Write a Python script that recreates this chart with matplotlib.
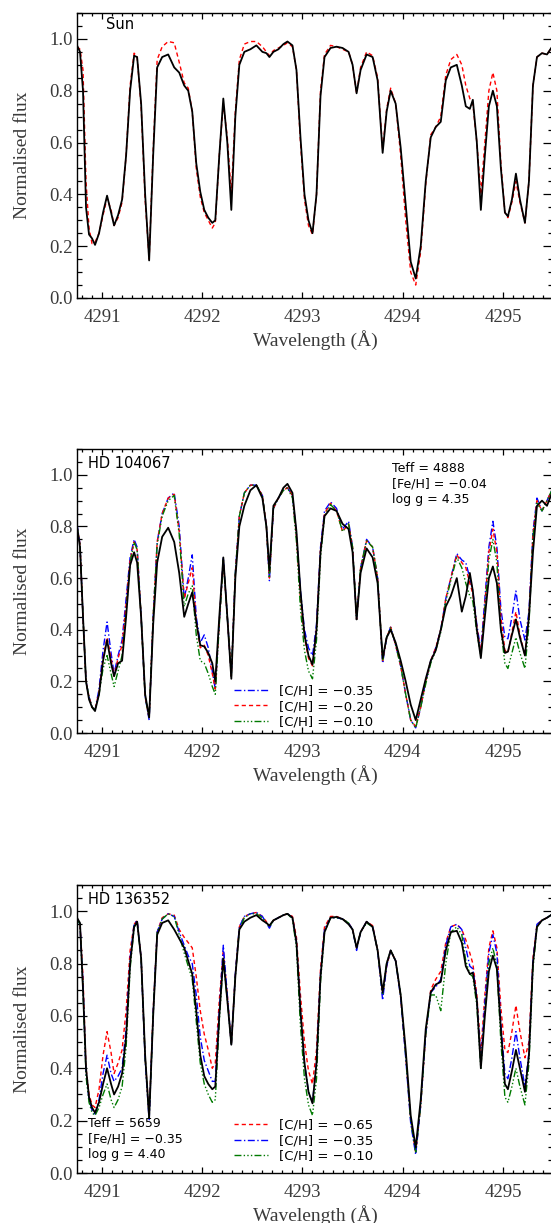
import matplotlib
matplotlib.use("Agg")
import matplotlib.pyplot as plt
from matplotlib.ticker import MultipleLocator, FormatStrFormatter

# ---------------- Data ---------------- #
wave = [
    4290.75, 4290.78, 4290.81, 4290.84, 4290.87, 4290.90, 4290.93, 4290.97, 4291.01, 4291.05,
    4291.09, 4291.12, 4291.16, 4291.20, 4291.24, 4291.28, 4291.32, 4291.35, 4291.39, 4291.43,
    4291.47, 4291.51, 4291.55, 4291.60, 4291.66, 4291.72, 4291.77, 4291.82, 4291.86, 4291.90,
    4291.94, 4291.98, 4292.02, 4292.06, 4292.10, 4292.13, 4292.17, 4292.21, 4292.25, 4292.29,
    4292.33, 4292.37, 4292.42, 4292.48, 4292.54, 4292.60, 4292.64, 4292.67, 4292.71, 4292.76,
    4292.81, 4292.85, 4292.90, 4292.94, 4292.98, 4293.02, 4293.06, 4293.10, 4293.14, 4293.18,
    4293.22, 4293.28, 4293.34, 4293.40, 4293.46, 4293.50, 4293.54, 4293.58, 4293.64, 4293.70,
    4293.75, 4293.80, 4293.84, 4293.88, 4293.93, 4293.98, 4294.03, 4294.08, 4294.13, 4294.18,
    4294.23, 4294.28, 4294.33, 4294.38, 4294.43, 4294.48, 4294.54, 4294.59, 4294.63, 4294.67,
    4294.70, 4294.74, 4294.78, 4294.82, 4294.86, 4294.90, 4294.94, 4294.98, 4295.02, 4295.05,
    4295.09, 4295.13, 4295.17, 4295.22, 4295.26, 4295.30, 4295.34, 4295.39, 4295.44, 4295.50,
]

# Sun
sun_obs = [
    0.975, 0.95, 0.80, 0.35, 0.245, 0.23, 0.205, 0.25, 0.33, 0.395,
    0.33, 0.28, 0.32, 0.38, 0.55, 0.80, 0.935, 0.93, 0.75, 0.40,
    0.145, 0.55, 0.89, 0.93, 0.94, 0.89, 0.87, 0.82, 0.80, 0.72,
    0.52, 0.41, 0.34, 0.31, 0.29, 0.30, 0.55, 0.77, 0.60, 0.34,
    0.70, 0.90, 0.95, 0.96, 0.975, 0.95, 0.945, 0.93, 0.95, 0.96,
    0.98, 0.99, 0.975, 0.88, 0.62, 0.40, 0.30, 0.25, 0.40, 0.78,
    0.93, 0.965, 0.97, 0.965, 0.95, 0.90, 0.79, 0.88, 0.94, 0.93,
    0.84, 0.56, 0.72, 0.80, 0.75, 0.58, 0.36, 0.14, 0.075, 0.20,
    0.45, 0.62, 0.66, 0.68, 0.84, 0.89, 0.90, 0.82, 0.74, 0.73,
    0.765, 0.60, 0.34, 0.55, 0.74, 0.80, 0.74, 0.50, 0.33, 0.315,
    0.38, 0.48, 0.38, 0.29, 0.45, 0.82, 0.93, 0.945, 0.94, 0.975,
]
sun_syn = [
    0.97, 0.96, 0.88, 0.45, 0.27, 0.21, 0.215, 0.25, 0.32, 0.385,
    0.34, 0.28, 0.31, 0.37, 0.55, 0.82, 0.945, 0.93, 0.74, 0.38,
    0.15, 0.57, 0.92, 0.97, 0.99, 0.985, 0.91, 0.83, 0.81, 0.72,
    0.50, 0.39, 0.33, 0.30, 0.27, 0.29, 0.55, 0.75, 0.62, 0.40,
    0.72, 0.92, 0.98, 0.99, 0.99, 0.97, 0.95, 0.935, 0.955, 0.965,
    0.975, 0.985, 0.97, 0.88, 0.60, 0.38, 0.28, 0.245, 0.40, 0.80,
    0.94, 0.975, 0.97, 0.96, 0.95, 0.90, 0.79, 0.89, 0.95, 0.935,
    0.85, 0.57, 0.73, 0.81, 0.75, 0.55, 0.30, 0.10, 0.05, 0.18,
    0.44, 0.63, 0.66, 0.70, 0.86, 0.92, 0.94, 0.90, 0.82, 0.77,
    0.75, 0.60, 0.40, 0.60, 0.80, 0.87, 0.80, 0.52, 0.33, 0.31,
    0.37, 0.45, 0.37, 0.29, 0.45, 0.82, 0.93, 0.945, 0.94, 0.975,
]

# HD 104067
hd1_obs = [
    0.80, 0.72, 0.45, 0.20, 0.13, 0.10, 0.085, 0.15, 0.28, 0.36,
    0.27, 0.22, 0.27, 0.28, 0.45, 0.65, 0.70, 0.66, 0.45, 0.15,
    0.06, 0.42, 0.66, 0.76, 0.795, 0.74, 0.62, 0.45, 0.50, 0.545,
    0.43, 0.34, 0.335, 0.31, 0.27, 0.20, 0.45, 0.68, 0.45, 0.21,
    0.60, 0.80, 0.88, 0.94, 0.96, 0.91, 0.80, 0.63, 0.88, 0.91,
    0.95, 0.965, 0.93, 0.78, 0.55, 0.38, 0.30, 0.265, 0.40, 0.70,
    0.84, 0.87, 0.86, 0.81, 0.79, 0.70, 0.44, 0.62, 0.715, 0.68,
    0.58, 0.29, 0.37, 0.40, 0.35, 0.28, 0.20, 0.11, 0.05, 0.13,
    0.21, 0.28, 0.32, 0.40, 0.49, 0.53, 0.60, 0.47, 0.53, 0.62,
    0.55, 0.40, 0.29, 0.45, 0.60, 0.645, 0.58, 0.40, 0.31, 0.315,
    0.38, 0.44, 0.37, 0.30, 0.45, 0.70, 0.88, 0.90, 0.88, 0.94,
]
hd1_m035 = [
    0.81, 0.73, 0.45, 0.20, 0.14, 0.10, 0.09, 0.17, 0.32, 0.43,
    0.31, 0.23, 0.30, 0.36, 0.52, 0.68, 0.75, 0.72, 0.45, 0.14,
    0.05, 0.45, 0.74, 0.85, 0.91, 0.93, 0.80, 0.52, 0.60, 0.69,
    0.45, 0.35, 0.38, 0.33, 0.24, 0.17, 0.43, 0.68, 0.45, 0.22,
    0.62, 0.84, 0.93, 0.96, 0.96, 0.92, 0.80, 0.59, 0.87, 0.91,
    0.94, 0.95, 0.92, 0.77, 0.55, 0.40, 0.33, 0.30, 0.42, 0.72,
    0.86, 0.895, 0.87, 0.79, 0.82, 0.72, 0.44, 0.64, 0.75, 0.72,
    0.60, 0.27, 0.37, 0.41, 0.34, 0.26, 0.15, 0.05, 0.02, 0.10,
    0.20, 0.28, 0.33, 0.40, 0.52, 0.60, 0.695, 0.67, 0.66, 0.60,
    0.55, 0.42, 0.32, 0.52, 0.72, 0.82, 0.72, 0.48, 0.37, 0.365,
    0.45, 0.55, 0.44, 0.36, 0.47, 0.78, 0.91, 0.86, 0.90, 0.95,
]
hd1_m020 = [
    0.80, 0.73, 0.45, 0.20, 0.14, 0.10, 0.09, 0.16, 0.29, 0.37,
    0.29, 0.22, 0.29, 0.34, 0.50, 0.67, 0.74, 0.71, 0.45, 0.14,
    0.06, 0.45, 0.74, 0.85, 0.91, 0.925, 0.78, 0.52, 0.58, 0.64,
    0.43, 0.33, 0.34, 0.30, 0.23, 0.17, 0.43, 0.67, 0.45, 0.22,
    0.62, 0.84, 0.93, 0.96, 0.96, 0.92, 0.80, 0.60, 0.87, 0.91,
    0.94, 0.95, 0.92, 0.76, 0.52, 0.37, 0.29, 0.26, 0.40, 0.71,
    0.85, 0.89, 0.86, 0.78, 0.81, 0.72, 0.44, 0.64, 0.745, 0.72,
    0.60, 0.28, 0.37, 0.41, 0.34, 0.26, 0.15, 0.05, 0.025, 0.10,
    0.20, 0.28, 0.33, 0.40, 0.52, 0.60, 0.69, 0.66, 0.64, 0.58,
    0.54, 0.41, 0.31, 0.50, 0.70, 0.79, 0.70, 0.45, 0.32, 0.31,
    0.39, 0.47, 0.38, 0.30, 0.45, 0.77, 0.90, 0.86, 0.90, 0.95,
]
hd1_m010 = [
    0.80, 0.73, 0.45, 0.20, 0.14, 0.10, 0.09, 0.15, 0.25, 0.30,
    0.23, 0.18, 0.24, 0.30, 0.47, 0.66, 0.74, 0.71, 0.45, 0.14,
    0.06, 0.45, 0.73, 0.84, 0.90, 0.92, 0.77, 0.49, 0.54, 0.57,
    0.38, 0.28, 0.27, 0.23, 0.18, 0.15, 0.42, 0.67, 0.45, 0.22,
    0.62, 0.84, 0.93, 0.96, 0.96, 0.92, 0.80, 0.60, 0.87, 0.91,
    0.94, 0.95, 0.91, 0.74, 0.48, 0.32, 0.24, 0.21, 0.36, 0.68,
    0.84, 0.885, 0.86, 0.78, 0.81, 0.72, 0.44, 0.64, 0.745, 0.72,
    0.60, 0.28, 0.37, 0.41, 0.34, 0.26, 0.15, 0.05, 0.02, 0.10,
    0.19, 0.27, 0.32, 0.39, 0.51, 0.59, 0.68, 0.64, 0.58, 0.53,
    0.51, 0.39, 0.30, 0.48, 0.67, 0.75, 0.66, 0.40, 0.27, 0.25,
    0.31, 0.37, 0.31, 0.25, 0.42, 0.76, 0.89, 0.86, 0.90, 0.95,
]

# HD 136352
hd2_obs = [
    0.975, 0.955, 0.70, 0.40, 0.29, 0.25, 0.23, 0.27, 0.34, 0.40,
    0.34, 0.30, 0.33, 0.38, 0.52, 0.80, 0.94, 0.96, 0.82, 0.45,
    0.21, 0.60, 0.91, 0.955, 0.965, 0.93, 0.895, 0.86, 0.81, 0.76,
    0.62, 0.45, 0.37, 0.34, 0.32, 0.33, 0.60, 0.82, 0.66, 0.49,
    0.75, 0.93, 0.96, 0.975, 0.985, 0.965, 0.955, 0.945, 0.965, 0.975,
    0.985, 0.99, 0.975, 0.88, 0.62, 0.42, 0.31, 0.266, 0.42, 0.75,
    0.92, 0.975, 0.978, 0.97, 0.95, 0.93, 0.86, 0.92, 0.96, 0.94,
    0.85, 0.69, 0.80, 0.85, 0.81, 0.68, 0.47, 0.22, 0.097, 0.28,
    0.55, 0.69, 0.72, 0.73, 0.85, 0.92, 0.925, 0.88, 0.79, 0.76,
    0.765, 0.66, 0.40, 0.60, 0.77, 0.83, 0.78, 0.55, 0.34, 0.32,
    0.39, 0.47, 0.40, 0.31, 0.45, 0.80, 0.94, 0.965, 0.975, 0.99,
]
hd2_m065 = [
    0.97, 0.95, 0.75, 0.40, 0.30, 0.26, 0.25, 0.32, 0.45, 0.54,
    0.46, 0.38, 0.42, 0.47, 0.62, 0.85, 0.95, 0.965, 0.82, 0.44,
    0.22, 0.62, 0.92, 0.975, 0.99, 0.985, 0.93, 0.90, 0.88, 0.86,
    0.75, 0.62, 0.53, 0.47, 0.40, 0.42, 0.66, 0.85, 0.68, 0.49,
    0.76, 0.94, 0.98, 0.99, 0.995, 0.98, 0.96, 0.94, 0.965, 0.975,
    0.985, 0.99, 0.98, 0.90, 0.68, 0.50, 0.39, 0.34, 0.47, 0.78,
    0.94, 0.98, 0.98, 0.97, 0.955, 0.93, 0.86, 0.92, 0.96, 0.945,
    0.85, 0.68, 0.79, 0.85, 0.81, 0.67, 0.45, 0.20, 0.075, 0.26,
    0.53, 0.70, 0.74, 0.77, 0.88, 0.94, 0.95, 0.93, 0.89, 0.84,
    0.80, 0.68, 0.46, 0.68, 0.86, 0.925, 0.86, 0.63, 0.47, 0.46,
    0.54, 0.64, 0.54, 0.44, 0.50, 0.82, 0.95, 0.965, 0.975, 0.99,
]
hd2_m035 = [
    0.97, 0.95, 0.72, 0.38, 0.28, 0.24, 0.22, 0.28, 0.38, 0.45,
    0.38, 0.35, 0.37, 0.40, 0.55, 0.82, 0.95, 0.965, 0.82, 0.43,
    0.20, 0.61, 0.92, 0.97, 0.99, 0.98, 0.92, 0.87, 0.83, 0.80,
    0.68, 0.52, 0.43, 0.39, 0.35, 0.35, 0.62, 0.87, 0.68, 0.49,
    0.76, 0.94, 0.98, 0.99, 0.995, 0.98, 0.955, 0.935, 0.965, 0.975,
    0.985, 0.99, 0.975, 0.88, 0.62, 0.42, 0.31, 0.27, 0.42, 0.76,
    0.93, 0.975, 0.975, 0.97, 0.955, 0.93, 0.85, 0.92, 0.96, 0.94,
    0.85, 0.66, 0.79, 0.85, 0.81, 0.67, 0.44, 0.19, 0.07, 0.26,
    0.53, 0.69, 0.71, 0.74, 0.87, 0.94, 0.95, 0.93, 0.86, 0.79,
    0.78, 0.67, 0.42, 0.65, 0.84, 0.91, 0.84, 0.57, 0.38, 0.36,
    0.44, 0.54, 0.44, 0.33, 0.46, 0.81, 0.95, 0.965, 0.975, 0.99,
]
hd2_m010 = [
    0.97, 0.95, 0.70, 0.37, 0.27, 0.23, 0.22, 0.25, 0.30, 0.34,
    0.28, 0.25, 0.28, 0.33, 0.48, 0.78, 0.94, 0.955, 0.82, 0.44,
    0.21, 0.60, 0.92, 0.97, 0.99, 0.98, 0.91, 0.84, 0.79, 0.74,
    0.58, 0.42, 0.34, 0.30, 0.27, 0.28, 0.58, 0.82, 0.66, 0.49,
    0.75, 0.93, 0.975, 0.99, 0.99, 0.975, 0.955, 0.94, 0.965, 0.975,
    0.985, 0.99, 0.97, 0.86, 0.56, 0.36, 0.26, 0.22, 0.36, 0.73,
    0.92, 0.975, 0.975, 0.97, 0.955, 0.93, 0.86, 0.92, 0.955, 0.94,
    0.85, 0.68, 0.80, 0.85, 0.81, 0.68, 0.45, 0.20, 0.08, 0.26,
    0.53, 0.68, 0.68, 0.62, 0.80, 0.92, 0.94, 0.91, 0.81, 0.76,
    0.75, 0.64, 0.40, 0.62, 0.80, 0.86, 0.79, 0.50, 0.29, 0.27,
    0.33, 0.40, 0.33, 0.26, 0.42, 0.78, 0.94, 0.965, 0.975, 0.99,
]

panel_names = ["Sun", "HD 104067", "HD 136352"]
params_104067 = "Teff = 4888\n[Fe/H] = \u22120.04\nlog g = 4.35"
params_136352 = "Teff = 5659\n[Fe/H] = \u22120.35\nlog g = 4.40"
xtick_vals = [4291, 4292, 4293, 4294, 4295]

# ---------------- Styles ---------------- #
RED = dict(color="#ff0000", lw=1.0, dashes=(3.0, 2.2))
BLUE = dict(color="#0000ff", lw=1.0, dashes=(5.0, 1.8, 1.0, 1.8))
GREEN = dict(color="#007a00", lw=1.0, dashes=(5.0, 1.6, 1.0, 1.6, 1.0, 1.6, 1.0, 1.6))
BLACK = dict(color="black", lw=1.3)
LABEL_GREY = "#3a3a3a"
SERIF = "Liberation Serif"
SANS = "DejaVu Sans"

W, H = 551, 1223
fig = plt.figure(figsize=(W / 100, H / 100), dpi=100)

# axes boxes in pixels: left, top, right, bottom
boxes = [(77, 13, 553, 298), (77, 449, 553, 733), (77, 885, 553, 1173)]
axes = []
for (l, t, r, b) in boxes:
    ax = fig.add_axes([l / W, 1 - b / H, (r - l) / W, (b - t) / H])
    axes.append(ax)


def style_axis(ax):
    ax.set_xlim(4290.75, 4295.5)
    ax.set_ylim(0.0, 1.1)
    ax.xaxis.set_major_locator(plt.FixedLocator(xtick_vals))
    ax.xaxis.set_major_formatter(FormatStrFormatter("%d"))
    ax.xaxis.set_minor_locator(MultipleLocator(0.1))
    ax.yaxis.set_major_locator(MultipleLocator(0.2))
    ax.yaxis.set_major_formatter(FormatStrFormatter("%.1f"))
    ax.yaxis.set_minor_locator(MultipleLocator(0.05))
    ax.tick_params(which="both", direction="in", top=True, right=True, width=0.9)
    ax.tick_params(axis="x", which="major", length=4.5, pad=8)
    ax.tick_params(axis="x", which="minor", length=2.2)
    ax.tick_params(axis="y", which="major", length=7.5, pad=3)
    ax.tick_params(axis="y", which="minor", length=3.8)
    for lab in ax.get_xticklabels() + ax.get_yticklabels():
        lab.set_fontfamily(SERIF)
        lab.set_fontsize(13.5)
        lab.set_color(LABEL_GREY)
    for sp in ax.spines.values():
        sp.set_linewidth(1.0)
    ax.set_xlabel("Wavelength (\u00c5)", fontfamily=SERIF, fontsize=14,
                  color=LABEL_GREY, labelpad=3)
    ax.set_ylabel("Normalised flux", fontfamily=SERIF, fontsize=14,
                  color=LABEL_GREY, labelpad=13)


# ---------------- Panel 1: Sun ---------------- #
ax = axes[0]
ax.plot(wave, sun_syn, **RED)
ax.plot(wave, sun_obs, **BLACK)
style_axis(ax)
ax.text(0.061, 0.985, panel_names[0], transform=ax.transAxes, ha="left", va="top",
        fontfamily=SANS, fontsize=10.5)

# ---------------- Panel 2: HD 104067 ---------------- #
ax = axes[1]
l1, = ax.plot(wave, hd1_m035, label="[C/H] = \u22120.35", **BLUE)
l2, = ax.plot(wave, hd1_m020, label="[C/H] = \u22120.20", **RED)
l3, = ax.plot(wave, hd1_m010, label="[C/H] = \u22120.10", **GREEN)
ax.plot(wave, hd1_obs, **BLACK)
style_axis(ax)
ax.text(0.023, 0.975, panel_names[1], transform=ax.transAxes, ha="left", va="top",
        fontfamily=SANS, fontsize=10.5)
ax.text(0.662, 0.955, params_104067, transform=ax.transAxes, ha="left", va="top",
        fontfamily=SANS, fontsize=9, linespacing=1.25)
ax.legend(handles=[l1, l2, l3], loc="lower left", bbox_to_anchor=(0.33, 0.015),
          frameon=False, fontsize=9.5, handlelength=2.6, handletextpad=0.8,
          labelspacing=0.2, borderpad=0, borderaxespad=0)

# ---------------- Panel 3: HD 136352 ---------------- #
ax = axes[2]
m1, = ax.plot(wave, hd2_m065, label="[C/H] = \u22120.65", **RED)
m2, = ax.plot(wave, hd2_m035, label="[C/H] = \u22120.35", **BLUE)
m3, = ax.plot(wave, hd2_m010, label="[C/H] = \u22120.10", **GREEN)
ax.plot(wave, hd2_obs, **BLACK)
style_axis(ax)
ax.text(0.023, 0.975, panel_names[2], transform=ax.transAxes, ha="left", va="top",
        fontfamily=SANS, fontsize=10.5)
ax.text(0.023, 0.04, params_136352, transform=ax.transAxes, ha="left", va="bottom",
        fontfamily=SANS, fontsize=9, linespacing=1.25)
ax.legend(handles=[m1, m2, m3], loc="lower left", bbox_to_anchor=(0.33, 0.035),
          frameon=False, fontsize=9.5, handlelength=2.6, handletextpad=0.8,
          labelspacing=0.2, borderpad=0, borderaxespad=0)

fig.savefig("out.png", dpi=100)
